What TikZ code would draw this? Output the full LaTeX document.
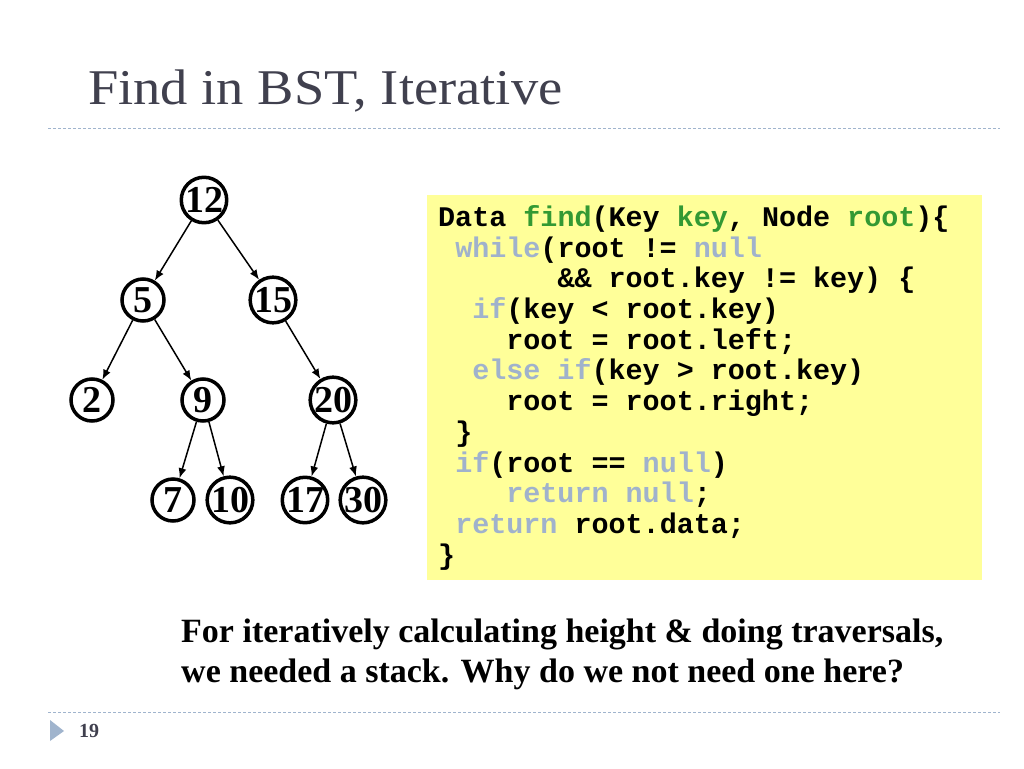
\documentclass[tikz,border=0pt]{standalone}
\usepackage{graphicx}
\usepackage{fontspec}
\setmainfont{Liberation Serif}
\newfontfamily\codefont{Liberation Mono}
\usetikzlibrary{positioning, arrows.meta}
\definecolor{codeyellow}{RGB}{255,255,153}
\definecolor{idgreen}{RGB}{51,153,51}
\definecolor{kwgray}{RGB}{160,178,204}
\definecolor{titlegray}{RGB}{64,64,78}
\definecolor{rulegray}{RGB}{160,180,205}
\newcommand{\ind}[1]{\hspace*{#1\fontcharwd\font`0}}
\newcommand{\gap}{\ind{1}}
\newcommand{\kw}[1]{\textcolor{kwgray}{#1}}
\newcommand{\idf}[1]{\textcolor{idgreen}{#1}}

\begin{document}
\begin{tikzpicture}[x=1pt,y=-1pt,node distance=100pt]
\tikzstyle{round}=[circle, draw=black, line width=3.5pt, minimum size=42pt, inner sep=0pt, font=\fontsize{38}{38}\selectfont\bfseries]
\tikzstyle{edgearrow}=[draw, line width=1.5pt, -{Latex[length=10pt,width=8pt]}]
\tikzstyle{codebox}=[rectangle, fill=codeyellow, anchor=north west, minimum height=385pt, text width=533pt, inner xsep=11pt, align=left, font=\codefont\bfseries\fontsize{28.4}{30.7}\selectfont]
\tikzstyle{dashline}=[rulegray, line width=0.8pt, dash pattern=on 3pt off 2pt]

\fill[white] (0,0) rectangle (1024,768);
\useasboundingbox (0,0) rectangle (1024,768);

%title and rules
\node (title) [anchor=base west, inner sep=0pt, text=titlegray, font=\fontsize{50}{50}\selectfont] at (88,104) {\scalebox{1.09}[1]{Find in BST, Iterative}};
\draw [dashline] (48,128) -- (1000,128);
\draw [dashline] (48,712) -- (1000,712);
\fill [rulegray] (50,720) -- (64,731) -- (50,741) -- cycle;
\node (pagenum) [anchor=base west, inner sep=0pt, text=titlegray, font=\bfseries\fontsize{20}{20}\selectfont] at (79,737) {19};

%nodes
\node (root) [round] at (204,200) {12};
\node (five) [round, below of=root, xshift=-61pt] {5};
\node (fifteen) [round, below of=root, xshift=69pt] {15};
\node (two) [round, below of=five, xshift=-51pt] {2};
\node (nine) [round, below of=five, xshift=60pt] {9};
\node (twenty) [round, below of=fifteen, xshift=60pt] {20};
\node (seven) [round, below of=nine, xshift=-30pt] {7};
\node (ten) [round, below of=nine, xshift=27pt] {10};
\node (seventeen) [round, below of=twenty, xshift=-28pt] {17};
\node (thirty) [round, below of=twenty, xshift=30pt] {30};

%lines
\draw [edgearrow] (root) -- (five);
\draw [edgearrow] (root) -- (fifteen);
\draw [edgearrow] (five) -- (two);
\draw [edgearrow] (five) -- (nine);
\draw [edgearrow] (fifteen) -- (twenty);
\draw [edgearrow] (nine) -- (seven);
\draw [edgearrow] (nine) -- (ten);
\draw [edgearrow] (twenty) -- (seventeen);
\draw [edgearrow] (twenty) -- (thirty);

%code
\node (code) [codebox] at (427,195) {Data\gap\idf{find}(Key\gap\idf{key},\gap Node\gap\idf{root})\{\\
\ind{1}\kw{while}(root\gap!=\gap\kw{null}\\
\ind{7}\&\&\gap root.key\gap!=\gap key)\gap\{\\
\ind{2}\kw{if}(key\gap<\gap root.key)\\
\ind{4}root\gap=\gap root.left;\\
\ind{2}\kw{else\gap if}(key\gap>\gap root.key)\\
\ind{4}root\gap=\gap root.right;\\
\ind{1}\}\\
\ind{1}\kw{if}(root\gap==\gap\kw{null})\\
\ind{4}\kw{return\gap null};\\
\ind{1}\kw{return}\gap root.data;\\
\}};

%question
\node (question) [anchor=north west, align=left, inner sep=0pt, font=\bfseries\fontsize{34}{40}\selectfont] at (181,619) {For iteratively calculating height \& doing traversals,\\we needed a stack. Why do we not need one here?};

\end{tikzpicture}
\end{document}
